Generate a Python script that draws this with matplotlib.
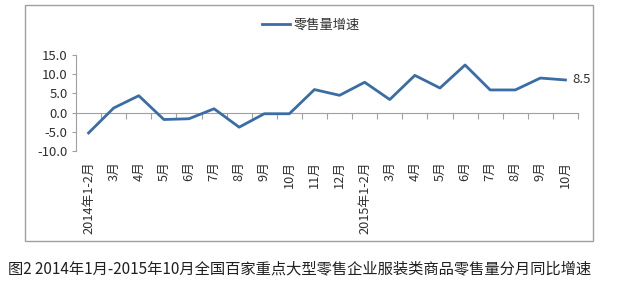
import matplotlib
matplotlib.use("Agg")
import matplotlib.pyplot as plt
from matplotlib.patches import Rectangle
from matplotlib.ticker import FormatStrFormatter

plt.rcParams["font.family"] = ["Noto Sans CJK SC", "DejaVu Sans"]

# Data
months = ["2014年1-2月", "3月", "4月", "5月", "6月", "7月", "8月", "9月", "10月",
          "11月", "12月", "2015年1-2月", "3月", "4月", "5月", "6月", "7月", "8月",
          "9月", "10月"]
growth = [-5.3, 1.2, 4.4, -1.8, -1.6, 1.0, -3.8, -0.3, -0.3,
          6.0, 4.5, 7.9, 3.4, 9.7, 6.4, 12.4, 5.9, 5.9, 9.0, 8.5]
yticks = [-10, -5, 0, 5, 10, 15]
series_name = "零售量增速"
caption = "图2 2014年1月-2015年10月全国百家重点大型零售企业服装类商品零售量分月同比增速"

line_color = "#3A6CA5"
axis_color = "#A0A0A0"
text_color = "#303030"

fig = plt.figure(figsize=(6.17, 2.88), dpi=100)
fig.patch.set_facecolor("white")

# outer chart frame
fig.patches.append(Rectangle((0.0405, 0.163), 0.9206, 0.819, transform=fig.transFigure,
                             fill=False, edgecolor=axis_color, linewidth=1.0))

ax = fig.add_axes([0.1232, 0.4757, 0.8136, 0.3333])
x = list(range(len(months)))
ax.plot(x, growth, color=line_color, linewidth=2.0, label=series_name)

ax.set_xlim(-0.5, len(months) - 0.5)
ax.set_ylim(yticks[0], yticks[-1])
ax.set_yticks(yticks)
ax.yaxis.set_major_formatter(FormatStrFormatter("%.1f"))
ax.tick_params(axis="y", length=3, direction="out", color=axis_color,
               labelsize=9.5, labelcolor=text_color, pad=3)

ax.set_xticks(x)
ax.set_xticklabels(months, rotation=90)
ax.tick_params(axis="x", length=0, labelsize=9.2, labelcolor=text_color, pad=7.5)

for side in ["top", "right", "bottom"]:
    ax.spines[side].set_visible(False)
ax.spines["left"].set_color(axis_color)

# category axis drawn at zero with tick marks between categories
zero_frac = (0 - yticks[0]) / (yticks[-1] - yticks[0])
sec = ax.secondary_xaxis(zero_frac)
sec.set_xticks([i - 0.5 for i in range(len(months) + 1)])
sec.set_xticklabels([])
sec.tick_params(length=4, direction="out", color=axis_color)
sec.spines["bottom"].set_color(axis_color)

ax.annotate(f"{growth[-1]:.1f}", (x[-1], growth[-1]), xytext=(5, 0),
            textcoords="offset points", va="center", ha="left",
            fontsize=9.5, color=text_color)

fig.legend(loc="center", bbox_to_anchor=(0.504, 0.913), frameon=False,
           handlelength=2.1, handletextpad=0.3, fontsize=9.5, labelcolor=text_color)

fig.text(0.013, 0.068, caption, fontsize=11, color="#202020", va="center", ha="left")

fig.savefig("out.png", dpi=100, facecolor="white")
